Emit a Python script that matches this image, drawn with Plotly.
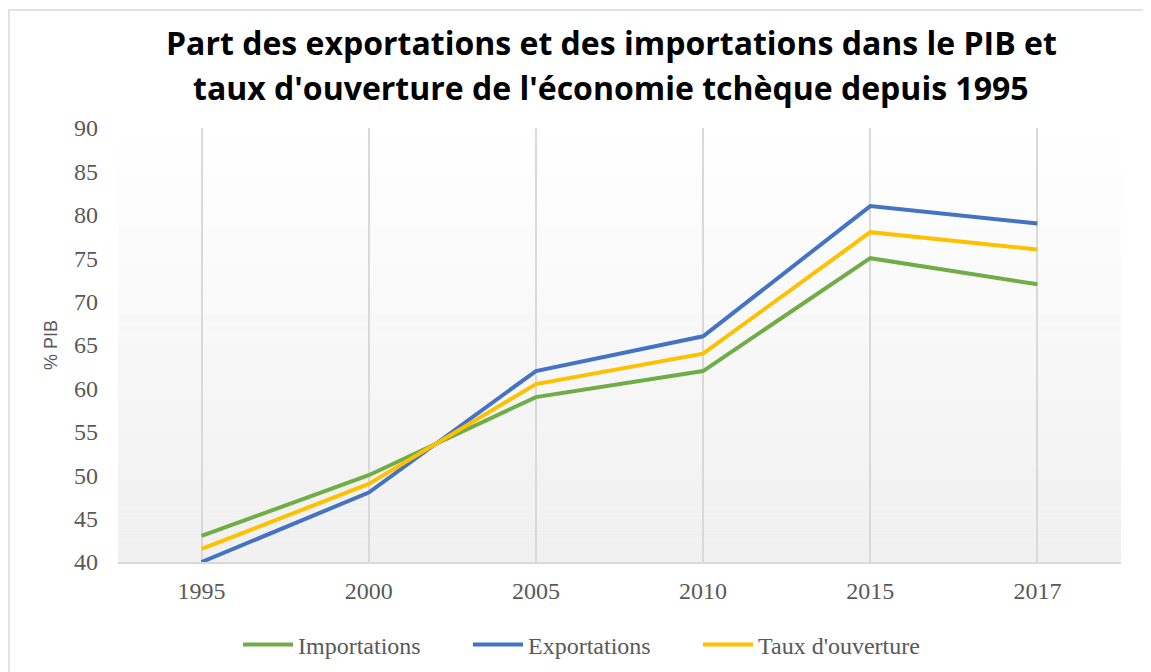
import plotly.graph_objects as go

# data (% of GDP)
years = ["1995", "2000", "2005", "2010", "2015", "2017"]
importations = [43, 50, 59, 62, 75, 72]
exportations = [40, 48, 62, 66, 81, 79]
taux_ouverture = [41.5, 49, 60.5, 64, 78, 76]

series = [
    ("Importations", importations, "#70ad47"),
    ("Exportations", exportations, "#4472c4"),
    ("Taux d'ouverture", taux_ouverture, "#ffc000"),
]

title_lines = [
    "Part des exportations et des importations dans le PIB et",
    "taux d'ouverture de l'économie tchèque depuis 1995",
]

fig = go.Figure()
for name, values, color in series:
    fig.add_trace(go.Scatter(x=years, y=values, name=name, mode="lines",
                             line=dict(color=color, width=4)))

# the page body adds an 8px offset, so pixel targets are shifted by it
OFF = 8
W, H = 1151, 672
l, t = 118 - OFF, 128 - OFF
r, b = W - (1121 - OFF), H - (562 - OFF)
pw, ph = W - l - r, H - t - b


def px_x(x):
    return (x - OFF - l) / pw


def px_y(y):
    return (H - b - (y - OFF)) / ph


# Excel-like gradient fill of the plot area (white at top, light grey at bottom)
shapes = []
steps = 40
for i in range(steps):
    c = round(255 - (255 - 240) * (i + 0.5) / steps)
    shapes.append(dict(type="rect", xref="paper", yref="paper",
                       x0=0, x1=1, y0=1 - (i + 1) / steps, y1=1 - i / steps,
                       fillcolor=f"rgb({c},{c},{c})", line=dict(width=0),
                       layer="below"))

# thin frame around the whole chart
shapes.append(dict(type="rect", xref="paper", yref="paper",
                   x0=px_x(9), x1=px_x(1170), y0=px_y(700), y1=px_y(10),
                   line=dict(color="#d9d9d9", width=1.5), fillcolor="rgba(0,0,0,0)",
                   layer="below"))

# title as two annotations so the line spacing matches
annotations = []
for text, ypix in zip(title_lines, [42, 88]):
    annotations.append(dict(text=f"<b>{text}</b>", xref="paper", yref="paper",
                            x=px_x(611), y=px_y(ypix),
                            xanchor="center", yanchor="middle", showarrow=False,
                            font=dict(family="Open Sans", size=32, color="black")))

# y axis title
annotations.append(dict(text="% PIB", xref="paper", yref="paper",
                        x=px_x(51), y=0.5, xanchor="center", yanchor="middle",
                        textangle=-90, showarrow=False,
                        font=dict(family="Liberation Sans", size=18, color="#595959")))

fig.update_layout(
    width=W, height=H,
    margin=dict(l=l, r=r, t=t, b=b, autoexpand=False),
    paper_bgcolor="white",
    plot_bgcolor="rgba(0,0,0,0)",
    shapes=shapes,
    annotations=annotations,
    xaxis=dict(
        type="category", range=[-0.5, 5.5], automargin=False,
        showgrid=True, gridcolor="#d9d9d9", gridwidth=1.5,
        showline=True, linecolor="#d9d9d9", linewidth=2,
        ticks="", ticklabelstandoff=6,
        tickfont=dict(family="Liberation Serif", size=24, color="#595959"),
        zeroline=False,
    ),
    yaxis=dict(
        range=[40, 90], dtick=5, showgrid=False, zeroline=False, automargin=False,
        ticks="", ticklabelstandoff=19,
        tickfont=dict(family="Liberation Serif", size=24, color="#595959"),
    ),
    legend=dict(
        orientation="h", x=px_x(583), xanchor="center",
        yref="container", y=1 - (645 - OFF) / H, yanchor="middle",
        font=dict(family="Liberation Serif", size=24, color="#595959"),
        itemwidth=50, entrywidth=165, bgcolor="rgba(0,0,0,0)",
    ),
    showlegend=True,
)

fig.write_html("out.html")
